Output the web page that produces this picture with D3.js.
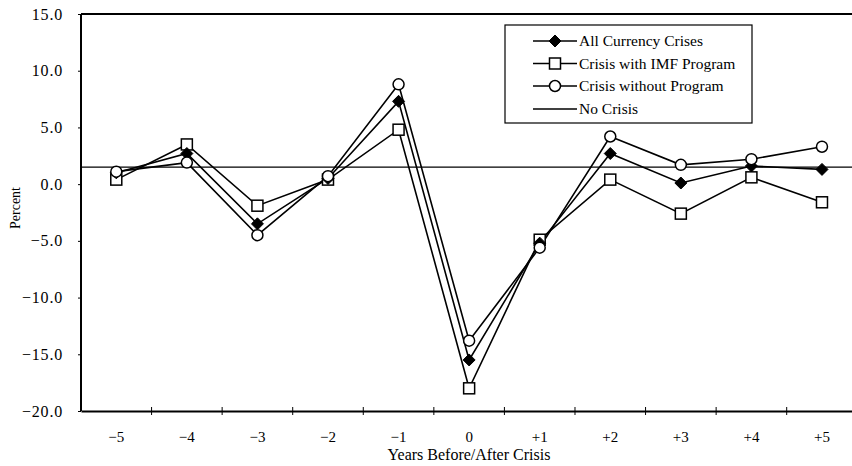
<!DOCTYPE html>
<html>
<head>
<meta charset="utf-8">
<script src="https://cdn.jsdelivr.net/npm/d3@7/dist/d3.min.js"></script>
<style>
  html, body { margin: 0; padding: 0; background: #fff; }
  svg { display: block; }
  text { font-family: "Liberation Serif", "Times New Roman", serif; fill: #000; }
</style>
</head>
<body>
<svg id="chart" width="852" height="466"></svg>
<script>
// ---- data ----
const categories = ["−5", "−4", "−3", "−2", "−1", "0", "+1", "+2", "+3", "+4", "+5"];
const allCrises     = [1.0, 2.7, -3.5, 0.5, 7.3, -15.5, -5.2, 2.7, 0.1, 1.6, 1.3];
const imfProgram    = [0.4, 3.5, -1.9, 0.4, 4.8, -18.0, -4.9, 0.4, -2.6, 0.6, -1.6];
const withoutProgram= [1.1, 1.9, -4.5, 0.7, 8.8, -13.8, -5.6, 4.2, 1.7, 2.2, 3.3];
const noCrisis = 1.5;
const yTicks = [-20, -15, -10, -5, 0, 5, 10, 15];
const legendLabels = ["All Currency Crises", "Crisis with IMF Program", "Crisis without Program", "No Crisis"];

(function () {
const svg = d3.select("#chart");
const mLeft = 81, mTop = 14, mBottom = 411, bandStep = 70.57;
const mRight = mLeft + bandStep * categories.length;

const x = d3.scaleBand().domain(categories).range([mLeft, mRight]).padding(0);
const y = d3.scaleLinear().domain([-20, 15]).range([mBottom, mTop]);
const cx = c => x(c) + x.bandwidth() / 2;

const fmt = d => (d < 0 ? "−" + Math.abs(d).toFixed(1) : d.toFixed(1));

// y axis
const yAxis = svg.append("g")
  .attr("transform", `translate(${mLeft},0)`)
  .call(d3.axisLeft(y).tickValues(yTicks).tickFormat(fmt).tickSize(3).tickPadding(15));
yAxis.select(".domain").attr("stroke-width", 2).attr("d", `M0,${mTop}V${mBottom}`);
yAxis.selectAll(".tick line").attr("stroke-width", 1);
yAxis.selectAll("text").style("font-size", "16px").style("letter-spacing", "0.8px")
  .style("font-family", "Liberation Serif, serif");

// top frame line
svg.append("line").attr("x1", mLeft).attr("x2", mRight).attr("y1", mTop).attr("y2", mTop)
  .attr("stroke", "#000").attr("stroke-width", 2);

// x axis
const xAxis = svg.append("g")
  .attr("transform", `translate(0,${mBottom})`)
  .call(d3.axisBottom(x).tickSize(0).tickPadding(20));
xAxis.select(".domain").attr("stroke-width", 2);
xAxis.selectAll("text").style("font-size", "15px").style("font-family", "Liberation Serif, serif");
xAxis.selectAll(".bt").data(categories.slice(1)).enter().append("line")
  .attr("class", "bt")
  .attr("x1", d => x(d)).attr("x2", d => x(d))
  .attr("y1", -4).attr("y2", 4)
  .attr("stroke", "#000").attr("stroke-width", 1);

// axis titles
svg.append("text").attr("x", 469).attr("y", 460).attr("text-anchor", "middle")
  .style("font-size", "16px").text("Years Before/After Crisis");
svg.append("text").attr("transform", "translate(20,208) rotate(-90)").attr("text-anchor", "middle")
  .style("font-size", "14px").text("Percent");

// no crisis line
svg.append("line").attr("x1", mLeft).attr("x2", mRight).attr("y1", y(noCrisis)).attr("y2", y(noCrisis))
  .attr("stroke", "#000").attr("stroke-width", 1.2);

const line = d3.line().x((d, i) => cx(categories[i])).y(d => y(d));
const seriesList = [
  { values: imfProgram, shape: "square" },
  { values: allCrises, shape: "diamond" },
  { values: withoutProgram, shape: "circle" }
];
seriesList.forEach(s => {
  svg.append("path").datum(s.values).attr("d", line)
    .attr("fill", "none").attr("stroke", "#000").attr("stroke-width", 1.6);
});

function drawMarker(g, shape, px, py) {
  if (shape === "square") {
    g.append("rect").attr("x", px - 5.5).attr("y", py - 5.5).attr("width", 11).attr("height", 11)
      .attr("fill", "#fff").attr("stroke", "#000").attr("stroke-width", 1.5);
  } else if (shape === "diamond") {
    g.append("path").attr("d", `M${px},${py - 6}L${px + 6},${py}L${px},${py + 6}L${px - 6},${py}Z`)
      .attr("fill", "#000").attr("stroke", "#000").attr("stroke-width", 1);
  } else {
    g.append("circle").attr("cx", px).attr("cy", py).attr("r", 5.5)
      .attr("fill", "#fff").attr("stroke", "#000").attr("stroke-width", 1.5);
  }
}
seriesList.forEach(s => {
  const g = svg.append("g");
  s.values.forEach((v, i) => drawMarker(g, s.shape, cx(categories[i]), y(v)));
});

// legend
const lg = svg.append("g");
lg.append("rect").attr("x", 505).attr("y", 25).attr("width", 247).attr("height", 98)
  .attr("fill", "#fff").attr("stroke", "#000").attr("stroke-width", 1.2);
const legendShapes = ["diamond", "square", "circle", null];
const legendY = [41, 63.5, 86, 109];
legendLabels.forEach((lab, i) => {
  const ly = legendY[i];
  lg.append("line").attr("x1", 533).attr("x2", 577).attr("y1", ly).attr("y2", ly)
    .attr("stroke", "#000").attr("stroke-width", 1.6);
  if (legendShapes[i]) drawMarker(lg, legendShapes[i], 555, ly);
  lg.append("text").attr("x", 579).attr("y", ly + 5).style("font-size", "15.5px").text(lab);
});
})();
</script>
</body>
</html>
